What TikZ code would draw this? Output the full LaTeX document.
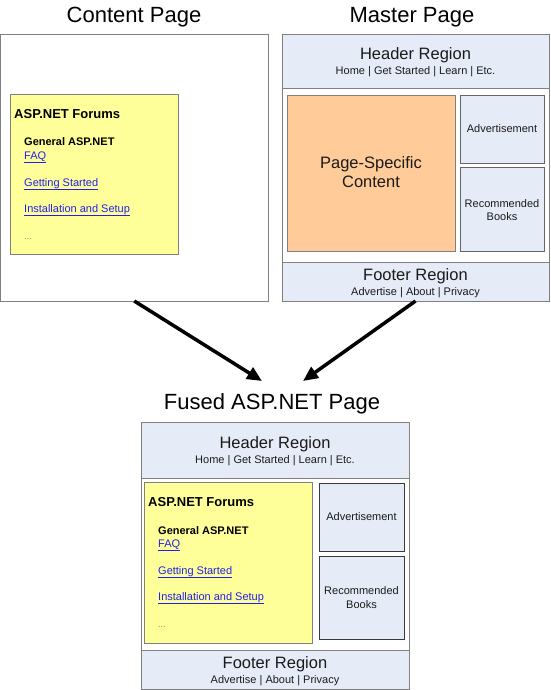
\documentclass[tikz,border=0pt]{standalone}
\usepackage{fontspec}
\setmainfont{Liberation Sans}
\usetikzlibrary{arrows.meta, positioning}

\definecolor{regionfill}{HTML}{E6ECF7}
\definecolor{pagefill}{HTML}{FFCC99}
\definecolor{forumfill}{HTML}{FFFF99}
\definecolor{framegray}{HTML}{808080}
\definecolor{darkframe}{HTML}{3A3A3A}
\definecolor{linkblue}{HTML}{2020EE}
\definecolor{inktext}{HTML}{1A1A1A}

\tikzset{
  box/.style 2 args={anchor=north west, inner sep=0pt, outer sep=0pt,
    minimum width=#1pt, minimum height=#2pt, draw=framegray, line width=0.9pt},
  pagetitle/.style={anchor=base, inner sep=0pt, font=\fontsize{22}{26}\selectfont},
  regiontitle/.style={anchor=base, inner sep=0pt, text=inktext, font=\fontsize{16.5}{19}\selectfont},
  regionlinks/.style={anchor=base, inner sep=0pt, text=inktext, font=\fontsize{11}{13}\selectfont},
  forumhead/.style={anchor=base west, inner sep=0pt, font=\bfseries\fontsize{13}{15}\selectfont},
  forumsub/.style={anchor=base west, inner sep=0pt, font=\bfseries\fontsize{11}{13}\selectfont},
  forumlink/.style={anchor=base west, inner sep=0pt, text=linkblue, font=\fontsize{11}{13}\selectfont},
  forumdots/.style={anchor=base west, inner sep=0pt, text=gray, font=\fontsize{9}{11}\selectfont},
  fuse/.style={line width=3.5pt, -{Triangle[length=15pt, width=13pt]}}
}

\begin{document}
\begin{tikzpicture}[x=1pt, y=-1pt]
\useasboundingbox (0,0) rectangle (550,690);

% content page
\node[box={267.5}{267}, fill=white] (content) at (0.5,34) {};
\node[box={168}{160}, fill=forumfill] (cforum) at (10,94) {};
\node[pagetitle] (content-title) at (134,23) {Content Page};

% master page
\node[box={267}{267}, fill=white] (master) at (282,34) {};
\node[box={267}{54}, fill=regionfill] (mheader) at (282,34) {};
\node[box={267}{39}, fill=regionfill] (mfooter) at (282,262) {};
\node[box={168}{156}, fill=pagefill, draw=gray] (mpage) at (287,95) {};
\node[box={84}{68}, fill=regionfill, draw=gray!80!black] (mad) at (460,95) {};
\node[box={84}{84}, fill=regionfill, draw=gray!80!black] (mbooks) at (460,167) {};
\node[pagetitle] (master-title) at (412,23) {Master Page};

\node[regiontitle] (mheader-t) at (415.5,60) {Header Region};
\node[regionlinks] (mheader-l) at (415.5,75) {Home | Get Started | Learn | Etc.};
\node[regiontitle] (mpage-t1) at (371,168) {Page-Specific};
\node[regiontitle] (mpage-t2) at (371,187) {Content};
\node[regionlinks] (mad-t) at (502,132) {Advertisement};
\node[regionlinks] (mbooks-t1) at (502,207) {Recommended};
\node[regionlinks] (mbooks-t2) at (502,220) {Books};
\node[regiontitle] (mfooter-t) at (415.5,280) {Footer Region};
\node[regionlinks] (mfooter-l) at (415.5,295) {Advertise | About | Privacy};

% fused page
\node[box={268}{267}, fill=white] (fused) at (141,422) {};
\node[box={268}{56}, fill=regionfill] (fheader) at (141,422) {};
\node[box={268}{39}, fill=regionfill] (ffooter) at (141,650) {};
\node[box={168}{161}, fill=forumfill] (fforum) at (144,482) {};
\node[box={85}{68}, fill=regionfill, draw=darkframe] (fad) at (319,483) {};
\node[box={85}{83}, fill=regionfill, draw=darkframe] (fbooks) at (319,556) {};
\node[pagetitle] (fused-title) at (272,409) {Fused ASP.NET Page};

\node[regiontitle] (fheader-t) at (275,448) {Header Region};
\node[regionlinks] (fheader-l) at (275,463) {Home | Get Started | Learn | Etc.};
\node[regionlinks] (fad-t) at (361.5,520) {Advertisement};
\node[regionlinks] (fbooks-t1) at (361.5,594) {Recommended};
\node[regionlinks] (fbooks-t2) at (361.5,608) {Books};
\node[regiontitle] (ffooter-t) at (275,668) {Footer Region};
\node[regionlinks] (ffooter-l) at (275,683) {Advertise | About | Privacy};

% forum lists
\foreach \f in {cforum, fforum} {
  \node[forumhead] (\f-head) at ([shift={(4,24)}]\f.north west) {ASP.NET Forums};
  \node[forumsub] (\f-sub) at ([shift={(14,52)}]\f.north west) {General ASP.NET};
  \node[forumlink] (\f-faq) at ([shift={(14,65)}]\f.north west) {\underline{FAQ}};
  \node[forumlink] (\f-start) at ([shift={(14,92)}]\f.north west) {\underline{Getting Started}};
  \node[forumlink] (\f-setup) at ([shift={(14,118)}]\f.north west) {\underline{Installation and Setup}};
  \node[forumdots] (\f-more) at ([shift={(14,145)}]\f.north west) {...};
}

% merge arrows
\coordinate (tipL) at (262,381);
\coordinate (tipR) at (303,381);
\draw[fuse] (content.south) -- (tipL);
\draw[fuse] (master.south) -- (tipR);
\end{tikzpicture}
\end{document}
